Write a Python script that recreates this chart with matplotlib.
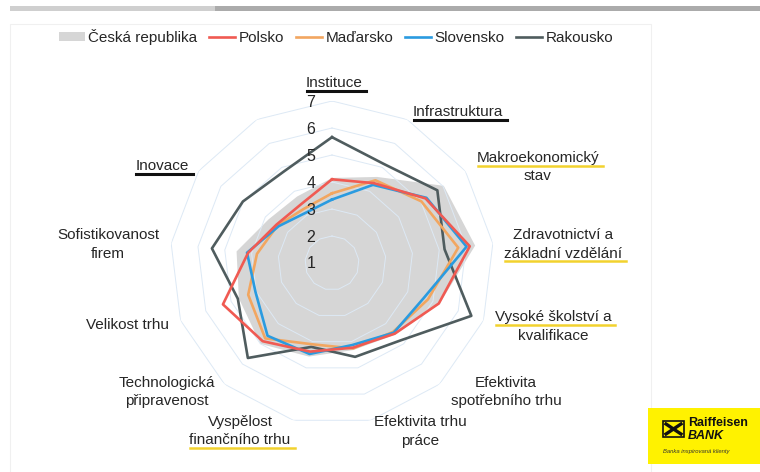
import matplotlib
matplotlib.use("Agg")
import matplotlib.pyplot as plt
import numpy as np
from matplotlib.lines import Line2D
from matplotlib.patches import Patch, Rectangle
from matplotlib.transforms import offset_copy

plt.rcParams["font.family"] = ["Liberation Sans", "DejaVu Sans"]

W, H = 760, 472

# --- data (13 spokes, clockwise from the top) ---
series_names = ["Česká republika", "Polsko", "Maďarsko", "Slovensko", "Rakousko"]
cz = [4.15, 4.6, 6.03, 6.34, 5.26, 4.54, 4.32, 4.57, 5.0, 4.69, 4.56, 3.85, 3.78]
pl = [4.1, 4.34, 5.21, 6.14, 5.23, 4.5, 4.23, 4.38, 4.87, 5.32, 4.13, 3.5, 3.46]
hu = [3.58, 4.46, 5.02, 5.71, 4.8, 4.41, 4.26, 4.1, 4.73, 4.32, 3.8, 3.45, 3.26]
sk = [3.35, 4.27, 5.25, 6.02, 4.64, 4.45, 4.13, 4.47, 4.6, 4.03, 4.17, 3.4, 3.1]
at = [5.66, 5.14, 5.74, 5.2, 6.52, 4.83, 4.58, 4.2, 5.7, 4.73, 5.48, 5.01, 4.83]
scale_ticks = [1, 2, 3, 4, 5, 6, 7]

category_labels = [
    ["Instituce"],
    ["Infrastruktura"],
    ["Makroekonomický", "stav"],
    ["Zdravotnictví a", "základní vzdělání"],
    ["Vysoké školství a", "kvalifikace"],
    ["Efektivita", "spotřebního trhu"],
    ["Efektivita trhu", "práce"],
    ["Vyspělost", "finančního trhu"],
    ["Technologická", "připravenost"],
    ["Velikost trhu"],
    ["Sofistikovanost", "firem"],
    ["Inovace"],
]

# layout of the labels: centre x, first line y (pixels from top), underlined line, colour
label_layout = [
    (334, 83, 0, "#111111"),
    (458, 112, 0, "#111111"),
    (538, 158, 0, "#f2d22e"),
    (563, 235, 1, "#f2d22e"),
    (553, 317, 0, "#f2d22e"),
    (506, 383, None, None),
    (420, 422, None, None),
    (240, 422, 1, "#f2d22e"),
    (167, 383, None, None),
    (128, 325, None, None),
    (108, 235, None, None),
    (162, 166, 0, "#111111"),
]

colors = {"cz": "#d6d6d6", "pl": "#f05a52", "hu": "#f2a660",
          "sk": "#2a9be0", "at": "#4f5c5e"}
text_color = "#262626"

fig = plt.figure(figsize=(W / 100, H / 100), dpi=100, facecolor="white")

# slide decorations: top bar and faint frame
fig.add_artist(Rectangle((10 / W, 1 - 11 / H), 750 / W, 5 / H, transform=fig.transFigure,
                         facecolor="#ababab", edgecolor="none"))
fig.add_artist(Rectangle((10 / W, 1 - 11 / H), 205 / W, 5 / H, transform=fig.transFigure,
                         facecolor="#cfcfcf", edgecolor="none"))
fig.add_artist(Rectangle((10 / W, -0.01), 641 / W, 1 - 24 / H + 0.01, transform=fig.transFigure,
                         facecolor="none", edgecolor="#f0f0f0", linewidth=0.8))

# polar axes: centre at (332, 263) px, radius 162 px for value 7
cx, cy, R = 332, 263, 162
ax = fig.add_axes([(cx - R) / W, (H - cy - R) / H, 2 * R / W, 2 * R / H], projection="polar")
ax.set_theta_zero_location("N")
ax.set_theta_direction(-1)
ax.set_ylim(1, 7)
ax.set_xticks([])
ax.set_yticks([])
ax.grid(False)
ax.spines["polar"].set_visible(False)
ax.patch.set_alpha(0)

n = len(cz)
angles = np.linspace(0, 2 * np.pi, n, endpoint=False)
ang_c = np.append(angles, angles[0])


def closed(v):
    return np.append(v, v[0])


ax.fill(ang_c, closed(cz), color=colors["cz"], linewidth=0, zorder=1)
for v in scale_ticks[1:]:
    ax.plot(ang_c, [v] * (n + 1), color="#dde9f5", linewidth=0.7, zorder=2)
for key, vals in [("at", at), ("hu", hu), ("sk", sk), ("pl", pl)]:
    ax.plot(ang_c, closed(vals), color=colors[key], linewidth=1.9, zorder=3)

tick_tr = offset_copy(ax.transData, fig=fig, x=-21, y=-1, units="dots")
for v in scale_ticks:
    ax.text(0, v, str(v), transform=tick_tr, ha="center", va="center",
            fontsize=11.5, color=text_color, zorder=5)

# category labels
line_gap = 18.5
under = []
for lines, (lx, ly, uline, ucol) in zip(category_labels, label_layout):
    for j, line in enumerate(lines):
        t = fig.text(lx / W, 1 - (ly + j * line_gap) / H, line, ha="center", va="center",
                     fontsize=11, color=text_color)
        if uline == j:
            under.append((t, ucol))

fig.canvas.draw()
rend = fig.canvas.get_renderer()
for t, ucol in under:
    bb = t.get_window_extent(rend)
    y = bb.y0 - 0.5
    lw = 2.2 if ucol == "#111111" else 1.8
    fig.add_artist(Line2D([(bb.x0 + 1) / W, (bb.x1 + 4) / W], [y / H, y / H],
                          transform=fig.transFigure, color=ucol, linewidth=lw))

# legend
handles = [Patch(facecolor=colors["cz"], edgecolor="none")]
handles += [Line2D([], [], color=colors[k], linewidth=1.9) for k in ["pl", "hu", "sk", "at"]]
leg = fig.legend(handles, series_names, loc="center", bbox_to_anchor=(336 / W, 1 - 37 / H),
                 ncol=5, frameon=False, fontsize=11, handlelength=1.7, handleheight=0.6,
                 handletextpad=0.25, columnspacing=0.75)
for txt in leg.get_texts():
    txt.set_color(text_color)

# bank logo
fig.add_artist(Rectangle((648 / W, 1 - 464 / H), 112 / W, 56 / H, transform=fig.transFigure,
                         facecolor="#fff200", edgecolor="none"))
fig.add_artist(Rectangle((663 / W, 1 - 437 / H), 21 / W, 16 / H, transform=fig.transFigure,
                         facecolor="#fff200", edgecolor="#111111", linewidth=1.2))
fig.add_artist(Line2D([666 / W, 681 / W], [1 - 434 / H, 1 - 424 / H], transform=fig.transFigure,
                      color="#111111", linewidth=2.4))
fig.add_artist(Line2D([666 / W, 681 / W], [1 - 424 / H, 1 - 434 / H], transform=fig.transFigure,
                      color="#111111", linewidth=2.4))
fig.text(688 / W, 1 - 423 / H, "Raiffeisen", fontsize=9, fontweight="bold",
         color="#111111", va="center", ha="left")
fig.text(688 / W, 1 - 436 / H, "BANK", fontsize=9, fontweight="bold", fontstyle="italic",
         color="#111111", va="center", ha="left")
fig.text(663 / W, 1 - 452 / H, "Banka inspirovaná klienty", fontsize=4.2, fontstyle="italic",
         color="#333333", va="center", ha="left")

fig.savefig("out.png", dpi=100, facecolor="white")
